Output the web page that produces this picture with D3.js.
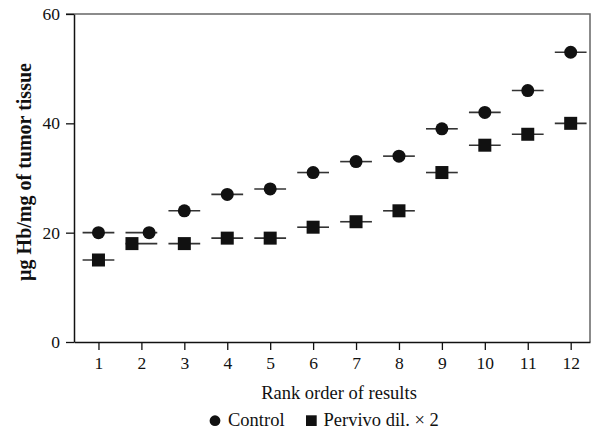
<!DOCTYPE html>
<meta charset='utf-8'>
<title>Hb per mg of tumor tissue</title>
<style>
body {
  margin: 0;
  background-color: #fff;
}
</style>
<svg width="591" height="430"></svg>
<script src="https://cdn.jsdelivr.net/npm/d3@7"></script>
<script>

// values
var ranks = [1, 2, 3, 4, 5, 6, 7, 8, 9, 10, 11, 12];
var control = [20, 20, 24, 27, 28, 31, 33, 34, 39, 42, 46, 53];
var pervivo = [15, 18, 18, 19, 19, 21, 22, 24, 31, 36, 38, 40];
// small sideways shift (in rank units) where markers would overlap
var controlShift = [0, 0.18, 0, 0, 0, 0, 0, 0, 0, 0, 0, 0];
var pervivoShift = [0, -0.22, 0, 0, 0, 0, 0, 0, 0, 0, 0, 0];
var yTicks = [0, 20, 40, 60];

var serif = "'Liberation Serif', 'Times New Roman', Times, serif";

var svg = d3.select("svg")
    .style("font-family", serif);

var margin = {left: 74, top: 14, right: 1, bottom: 88};
var width = 591 - margin.left - margin.right,
    height = 430 - margin.top - margin.bottom;

var x = d3.scaleLinear()
    .domain([0.43, 12.45])
    .range([margin.left, margin.left + width]);

var y = d3.scaleLinear()
    .domain([0, 60])
    .range([margin.top + height, margin.top]);

// frame: grey top and right borders
svg.append("path")
    .attr("d", "M" + (margin.left - 8) + "," + y(60) + "H" + x.range()[1] + "V" + y(0))
    .attr("fill", "none")
    .attr("stroke", "#666")
    .attr("stroke-width", 1.5);

var yAxis = svg.append("g")
    .attr("transform", "translate(" + margin.left + ",0)")
    .call(d3.axisLeft(y).tickValues(yTicks).tickSize(8).tickPadding(6).tickSizeOuter(0));

var xAxis = svg.append("g")
    .attr("transform", "translate(0," + y(0) + ")")
    .call(d3.axisBottom(x).tickValues(ranks).tickSize(8).tickPadding(7).tickSizeOuter(0));

[xAxis, yAxis].forEach(function(g) {
  g.attr("font-family", serif).attr("font-size", 17.5);
  g.selectAll("text").attr("fill", "#111");
  g.selectAll("line").attr("stroke", "#111").attr("stroke-width", 1.3);
  g.select(".domain").attr("stroke", "#111").attr("stroke-width", 1.5);
});

// horizontal bars through each point, centred on the rank
function bars(values) {
  svg.append("g").selectAll("line")
      .data(values)
    .enter().append("line")
      .attr("x1", function(d, i) { return x(ranks[i] - 0.37); })
      .attr("x2", function(d, i) { return x(ranks[i] + 0.37); })
      .attr("y1", function(d) { return y(d); })
      .attr("y2", function(d) { return y(d); })
      .attr("stroke", "#333")
      .attr("stroke-width", 1.6);
}
bars(control);
bars(pervivo);

svg.append("g").selectAll("circle")
    .data(control)
  .enter().append("circle")
    .attr("cx", function(d, i) { return x(ranks[i] + controlShift[i]); })
    .attr("cy", function(d) { return y(d); })
    .attr("r", 6.5)
    .attr("fill", "#111");

svg.append("g").selectAll("rect")
    .data(pervivo)
  .enter().append("rect")
    .attr("x", function(d, i) { return x(ranks[i] + pervivoShift[i]) - 6.5; })
    .attr("y", function(d) { return y(d) - 6.5; })
    .attr("width", 13)
    .attr("height", 13)
    .attr("fill", "#111");

// axis titles
svg.append("text")
    .attr("x", 339)
    .attr("y", 398.5)
    .attr("text-anchor", "middle")
    .attr("fill", "#111")
    .style("font-size", "18.5px")
    .text("Rank order of results");

svg.append("text")
    .attr("transform", "translate(31,172) rotate(-90)")
    .attr("text-anchor", "middle")
    .attr("fill", "#111")
    .style("font-size", "20px")
    .style("font-weight", "bold")
    .text("\u00b5g Hb/mg of tumor tissue");

// legend
var legend = svg.append("g")
    .style("font-size", "18.5px");
legend.append("circle")
    .attr("cx", 215).attr("cy", 420.7).attr("r", 5.4)
    .attr("fill", "#111");
legend.append("text")
    .attr("x", 228).attr("y", 426)
    .attr("fill", "#111")
    .text("Control");
legend.append("rect")
    .attr("x", 306).attr("y", 415.3).attr("width", 10.7).attr("height", 10.7)
    .attr("fill", "#111");
legend.append("text")
    .attr("x", 323.5).attr("y", 426)
    .attr("fill", "#111")
    .text("Pervivo dil. \u00d7 2");

</script>
